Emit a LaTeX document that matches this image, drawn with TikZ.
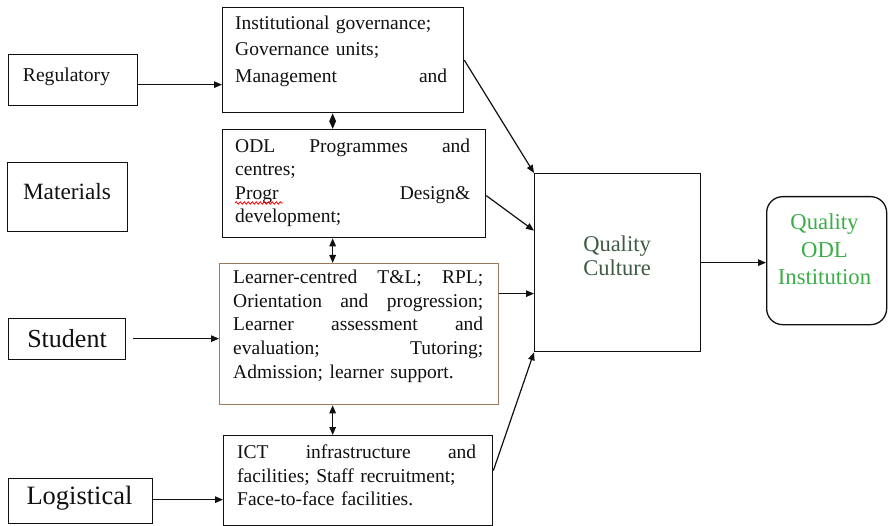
\documentclass[tikz,border=0pt]{standalone}
\usepackage{fontspec}
\setmainfont{Liberation Serif}
\usetikzlibrary{arrows.meta,decorations.pathmorphing}
\definecolor{ink}{HTML}{111111}
\definecolor{tanline}{HTML}{9A7A60}
\definecolor{culture}{HTML}{3E5B41}
\definecolor{odlgreen}{HTML}{3CAE48}
% one justified line of a given width; words are separated by \hfill
\newcommand{\jline}[2]{\leavevmode\hbox to #1{#2}}

\begin{document}
\begin{tikzpicture}[x=1pt,y=-1pt,
  frame/.style={draw=ink, line width=1.3pt, inner sep=0pt, anchor=north west},
  tag/.style={inner sep=0pt, anchor=base, text=ink},
  block/.style={inner sep=0pt, anchor=north west, align=left, text=ink,
                font=\fontsize{19.5}{#1}\selectfont},
  arr/.style={draw=ink, line width=1.2pt, -{Triangle[length=8pt,width=6.5pt]}},
  darr/.style={draw=ink, line width=1.2pt,
               {Triangle[length=8pt,width=6.5pt]}-{Triangle[length=8pt,width=6.5pt]}},
]
\useasboundingbox (0,0) rectangle (888,526);
\fill[white] (0,0) rectangle (888,526);

% drivers on the left
\node[frame, minimum width=129pt, minimum height=51pt] (reg) at (8,54) {};
\node[frame, minimum width=120pt, minimum height=69pt] (mat) at (7,162) {};
\node[frame, minimum width=117pt, minimum height=41pt] (stu) at (8,318) {};
\node[frame, minimum width=144pt, minimum height=45pt] (log) at (8,478) {};

\node[tag, font=\fontsize{19.6}{24}\selectfont] (regt) at (66.5,82) {Regulatory};
\node[tag, font=\fontsize{23.3}{28}\selectfont] (matt) at (67,199.3) {Materials};
\node[tag, font=\fontsize{26}{30}\selectfont] (stut) at (67,347.3) {Student};
\node[tag, font=\fontsize{26.5}{30}\selectfont] (logt) at (79.5,504) {Logistical};

% middle column of components
\node[frame, minimum width=241pt, minimum height=105pt] (gov) at (222,7) {};
\node[frame, minimum width=263pt, minimum height=108pt] (odl) at (222,129) {};
\node[frame, draw=tanline, minimum width=279pt, minimum height=141pt] (lrn) at (219,263) {};
\node[frame, minimum width=269pt, minimum height=90pt] (ict) at (223,435) {};

\node[block=26.2, text width=212pt] (govt) at (235,16)
  {Institutional governance;\\ Governance units;\\ \jline{212pt}{Management\hfill and}};
\node[block=23.3, text width=235pt] (odlt) at (235,138.7)
  {\jline{235pt}{ODL\hfill Programmes\hfill and}\\ centres;\\
   \jline{235pt}{Progr\hfill Design\&}\\ development;};
\node[block=23.9, text width=250pt] (lrnt) at (233,269.4)
  {\jline{250pt}{Learner-centred\hfill T\&L;\hfill RPL;}\\
   \jline{250pt}{Orientation\hfill and\hfill progression;}\\
   \jline{250pt}{Learner\hfill assessment\hfill and}\\
   \jline{250pt}{evaluation;\hfill Tutoring;}\\
   Admission; learner support.};
\node[block=23.3, text width=239pt] (ictt) at (237,445)
  {\jline{239pt}{ICT\hfill infrastructure\hfill and}\\
   facilities; Staff recruitment;\\ Face-to-face facilities.};

% spell-check squiggle under "Progr"
\draw[red, line width=0.8pt, decorate,
      decoration={snake, amplitude=1.2pt, segment length=4pt}] (235,203) -- (283,203);

% outcome boxes
\node[frame, minimum width=166pt, minimum height=178pt] (qc) at (534,173) {};
\node[frame, rounded corners=16pt, minimum width=120pt, minimum height=128pt] (qodl) at (766,196) {};

\node[align=center, inner sep=0pt, text=culture, font=\fontsize{22.5}{24.3}\selectfont]
  (qct) at (617,256) {Quality\\ Culture};
\node[align=center, inner sep=0pt, text=odlgreen, font=\fontsize{22.7}{27.5}\selectfont]
  (qodlt) at (824.5,249.5) {Quality\\ ODL\\ Institution};

% connectors
\draw[arr] ([yshift=-4.5pt]reg.east) -- ([yshift=-24.5pt]gov.west);
\draw[arr, shorten <=7pt] ([yshift=0.5pt]stu.east) -- ([yshift=-4.5pt]lrn.west);
\draw[arr] ([yshift=1.5pt]log.east) -- ([yshift=-19pt]ict.west);

\draw[darr] ([xshift=-10.5pt]gov.south) -- ([xshift=-21.5pt]odl.north);
\draw[darr] ([xshift=-21.5pt]odl.south) -- ([xshift=-26.5pt]lrn.north);
\draw[darr] ([xshift=-26.5pt]lrn.south) -- ([xshift=-25.5pt]ict.north);

\draw[arr] (gov.east) -- (qc.north west);
\draw[arr] ([yshift=-12pt]odl.east) -- ([yshift=32pt]qc.west);
\draw[arr] ([yshift=40.5pt]lrn.east) -- ([yshift=-31pt]qc.west);
\draw[arr] ([yshift=10pt]ict.east) -- (qc.south west);
\draw[arr] (qc.east) -- (qc.east -| qodl.west);
\end{tikzpicture}
\end{document}
